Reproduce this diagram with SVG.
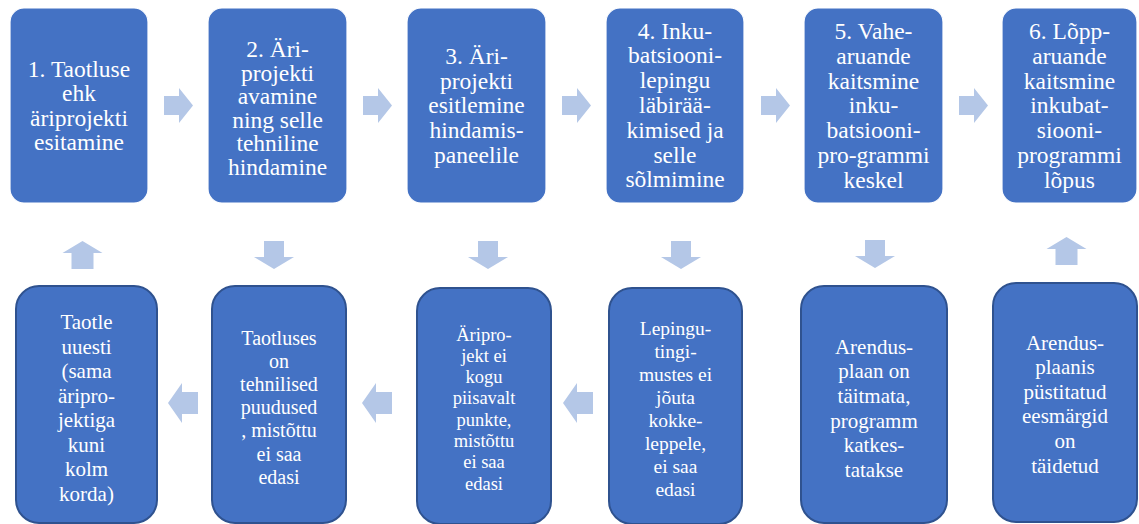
<svg xmlns="http://www.w3.org/2000/svg" width="1139" height="524" viewBox="0 0 1139 524">
<defs>
<style>
.top{fill:#4472C4;stroke:#ffffff;stroke-width:1.2}
.bot{fill:#4472C4;stroke:#2F528F;stroke-width:2}
.arr{fill:#B4C7E7}
text{font-family:'Liberation Serif', 'Times New Roman', serif;fill:#ffffff;text-anchor:middle}
.t{font-size:23.5px}
.b21{font-size:21px}
.b20{font-size:20px}
.b185{font-size:18.5px}
.b195{font-size:19.5px}
</style>
<path id="ra" d="M0,-9.5 H15 V-17.5 L29,0 L15,17.5 V9.5 H0 Z"/>
<path id="la" d="M0,0 L14,-20 V-11 H30 V11 H14 V20 Z"/>
<path id="da" d="M-10,0 H10 V16 H20 L0,28 L-20,16 H-10 Z"/>
<path id="ua" d="M0,0 L20,12 H11 V28 H-11 V12 H-20 Z"/>
</defs>
<g id="connectors" class="arr">
<use href="#ra" x="164" y="105.5"/>
<use href="#ra" x="363" y="105.5"/>
<use href="#ra" x="562" y="105.5"/>
<use href="#ra" x="761" y="105.5"/>
<use href="#ra" x="959" y="105.5"/>
<use href="#la" x="168" y="403"/>
<use href="#la" x="362" y="403"/>
<use href="#la" x="563" y="403"/>
<use href="#ua" x="82.5" y="241"/>
<use href="#da" x="274" y="241"/>
<use href="#da" x="488" y="241"/>
<use href="#da" x="681" y="241"/>
<use href="#da" x="875" y="240"/>
<use href="#ua" x="1066.5" y="237"/>
</g>
<g id="n1">
<rect class="top" x="10" y="8" width="138" height="195" rx="14"/>
<text class="t" x="79" y="76.5">1. Taotluse<tspan x="79" dy="24.5">ehk</tspan><tspan x="79" dy="24.5">äriprojekti</tspan><tspan x="79" dy="24.5">esitamine</tspan></text>
</g>
<g id="n2">
<rect class="top" x="208" y="8" width="139" height="195" rx="14"/>
<text class="t" x="277.5" y="57">2. Äri-<tspan x="277.5" dy="23.6">projekti</tspan><tspan x="277.5" dy="23.6">avamine</tspan><tspan x="277.5" dy="23.6">ning selle</tspan><tspan x="277.5" dy="23.6">tehniline</tspan><tspan x="277.5" dy="23.6">hindamine</tspan></text>
</g>
<g id="n3">
<rect class="top" x="407" y="8" width="139" height="195" rx="14"/>
<text class="t" x="476.5" y="64">3. Äri-<tspan x="476.5" dy="24.7">projekti</tspan><tspan x="476.5" dy="24.7">esitlemine</tspan><tspan x="476.5" dy="24.7">hindamis-</tspan><tspan x="476.5" dy="24.7">paneelile</tspan></text>
</g>
<g id="n4">
<rect class="top" x="606" y="8" width="138" height="195" rx="14"/>
<text class="t" x="675" y="38.5">4. Inku-<tspan x="675" dy="24.8">batsiooni-</tspan><tspan x="675" dy="24.8">lepingu</tspan><tspan x="675" dy="24.8">läbirää-</tspan><tspan x="675" dy="24.8">kimised ja</tspan><tspan x="675" dy="24.8">selle</tspan><tspan x="675" dy="24.8">sõlmimine</tspan></text>
</g>
<g id="n5">
<rect class="top" x="804" y="8" width="139" height="195" rx="14"/>
<text class="t" x="873.5" y="39">5. Vahe-<tspan x="873.5" dy="24.8">aruande</tspan><tspan x="873.5" dy="24.8">kaitsmine</tspan><tspan x="873.5" dy="24.8">inku-</tspan><tspan x="873.5" dy="24.8">batsiooni-</tspan><tspan x="873.5" dy="24.8">pro-grammi</tspan><tspan x="873.5" dy="24.8">keskel</tspan></text>
</g>
<g id="n6">
<rect class="top" x="1002" y="8" width="135" height="195" rx="14"/>
<text class="t" x="1069.5" y="39">6. Lõpp-<tspan x="1069.5" dy="24.8">aruande</tspan><tspan x="1069.5" dy="24.8">kaitsmine</tspan><tspan x="1069.5" dy="24.8">inkubat-</tspan><tspan x="1069.5" dy="24.8">siooni-</tspan><tspan x="1069.5" dy="24.8">programmi</tspan><tspan x="1069.5" dy="24.8">lõpus</tspan></text>
</g>
<g id="b1">
<rect class="bot" x="16" y="286" width="141" height="237" rx="23"/>
<text class="b21" x="86.5" y="329">Taotle<tspan x="86.5" dy="24.5">uuesti</tspan><tspan x="86.5" dy="24.5">(sama</tspan><tspan x="86.5" dy="24.5">äripro-</tspan><tspan x="86.5" dy="24.5">jektiga</tspan><tspan x="86.5" dy="24.5">kuni</tspan><tspan x="86.5" dy="24.5">kolm</tspan><tspan x="86.5" dy="24.5">korda)</tspan></text>
</g>
<g id="b2">
<rect class="bot" x="212" y="286" width="134" height="237" rx="23"/>
<text class="b20" x="279" y="345">Taotluses<tspan x="279" dy="23.1">on</tspan><tspan x="279" dy="23.1">tehnilised</tspan><tspan x="279" dy="23.1">puudused</tspan><tspan x="279" dy="23.1">, mistõttu</tspan><tspan x="279" dy="23.1">ei saa</tspan><tspan x="279" dy="23.1">edasi</tspan></text>
</g>
<g id="b3">
<rect class="bot" x="417" y="288" width="134" height="236" rx="23"/>
<text class="b185" x="484" y="340.5">Äripro-<tspan x="484" dy="21.3">jekt ei</tspan><tspan x="484" dy="21.3">kogu</tspan><tspan x="484" dy="21.3">piisavalt</tspan><tspan x="484" dy="21.3">punkte,</tspan><tspan x="484" dy="21.3">mistõttu</tspan><tspan x="484" dy="21.3">ei saa</tspan><tspan x="484" dy="21.3">edasi</tspan></text>
</g>
<g id="b4">
<rect class="bot" x="609" y="288" width="133" height="236" rx="23"/>
<text class="b195" x="675.5" y="335">Lepingu-<tspan x="675.5" dy="23">tingi-</tspan><tspan x="675.5" dy="23">mustes ei</tspan><tspan x="675.5" dy="23">jõuta</tspan><tspan x="675.5" dy="23">kokke-</tspan><tspan x="675.5" dy="23">leppele,</tspan><tspan x="675.5" dy="23">ei saa</tspan><tspan x="675.5" dy="23">edasi</tspan></text>
</g>
<g id="b5">
<rect class="bot" x="801" y="286" width="146" height="237" rx="23"/>
<text class="b21" x="874" y="353.5">Arendus-<tspan x="874" dy="24.7">plaan on</tspan><tspan x="874" dy="24.7">täitmata,</tspan><tspan x="874" dy="24.7">programm</tspan><tspan x="874" dy="24.7">katkes-</tspan><tspan x="874" dy="24.7">tatakse</tspan></text>
</g>
<g id="b6">
<rect class="bot" x="993" y="283" width="144" height="239" rx="23"/>
<text class="b21" x="1065" y="349.5">Arendus-<tspan x="1065" dy="24.6">plaanis</tspan><tspan x="1065" dy="24.6">püstitatud</tspan><tspan x="1065" dy="24.6">eesmärgid</tspan><tspan x="1065" dy="24.6">on</tspan><tspan x="1065" dy="24.6">täidetud</tspan></text>
</g>
</svg>
